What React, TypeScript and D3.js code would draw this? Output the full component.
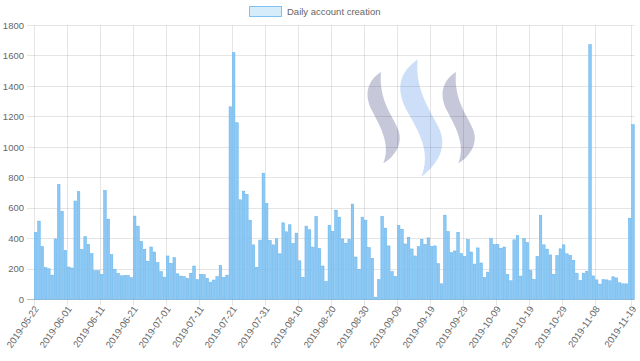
import React from "react";
import * as d3 from "d3";

const startDate = new Date(2019, 4, 22);
const endDate = new Date(2019, 10, 20);
const fmt = d3.timeFormat("%Y-%m-%d");
const dates: string[] = d3.timeDay.range(startDate, endDate).map((d) => fmt(d));

const accounts: number[] = [
  440, 515, 348, 209, 202, 160, 398, 755, 580, 323,
  213, 207, 647, 708, 328, 413, 363, 301, 189, 189,
  165, 717, 528, 295, 198, 172, 156, 158, 158, 143,
  548, 482, 381, 330, 251, 345, 312, 242, 183, 147,
  286, 238, 275, 169, 154, 150, 139, 172, 220, 130,
  165, 163, 139, 114, 128, 150, 224, 145, 160, 1266,
  1621, 1161, 655, 712, 690, 521, 359, 212, 390, 830,
  631, 388, 359, 399, 300, 504, 445, 491, 368, 436,
  254, 145, 482, 458, 344, 545, 334, 220, 119, 488,
  447, 587, 541, 398, 370, 396, 627, 279, 198, 541,
  521, 341, 271, 15, 130, 546, 469, 352, 183, 152,
  486, 462, 365, 409, 332, 286, 348, 396, 363, 405,
  348, 352, 235, 103, 554, 447, 308, 319, 442, 301,
  282, 394, 312, 233, 339, 240, 145, 180, 400, 361,
  361, 337, 345, 163, 123, 392, 420, 154, 400, 374,
  189, 132, 283, 552, 359, 331, 293, 166, 289, 333,
  359, 300, 291, 258, 173, 125, 173, 186, 1675, 155,
  129, 101, 131, 129, 123, 149, 142, 110, 103, 103,
  534, 1148,
];

const xTickLabels: string[] = [
  "2019-05-22", "2019-06-01", "2019-06-11", "2019-06-21", "2019-07-01",
  "2019-07-11", "2019-07-21", "2019-07-31", "2019-08-10", "2019-08-20",
  "2019-08-30", "2019-09-09", "2019-09-19", "2019-09-29", "2019-10-09",
  "2019-10-19", "2019-10-29", "2019-11-08", "2019-11-19",
];
const yTicks: number[] = [0, 200, 400, 600, 800, 1000, 1200, 1400, 1600, 1800];
const seriesName = "Daily account creation";

const W = 640;
const H = 361;
const left = 34;
const right = 634.6;
const top = 25.5;
const bottom = 299.5;

export default function App() {
  const x = d3.scaleBand<string>().domain(dates).range([left, right]).paddingInner(0).paddingOuter(0);
  const y = d3.scaleLinear().domain([0, 1800]).range([bottom, top]);
  const bw = x.bandwidth();
  const barW = bw * 0.78;
  const font = "'Liberation Sans', Arial, Helvetica, sans-serif";
  const snap = (v: number) => Math.round(v - 0.5) + 0.5;

  return (
    <svg width={W} height={H} style={{ position: "absolute", left: 0, top: 0, background: "#fff" }}>
      {/* watermark */}
      <g transform="translate(355,50) scale(0.3333)">
        <path d="M78,66 C40,90 25,130 50,180 C70,220 110,280 85,340 C120,320 145,280 130,240 C115,200 70,150 78,66 Z" fill="#c6c8da" />
        <path d="M188,28 C130,70 120,120 160,190 C200,260 225,310 200,380 C250,340 280,290 250,230 C215,165 180,110 188,28 Z" fill="#cddff8" />
        <path d="M303,66 C265,90 250,130 275,180 C295,220 335,280 310,340 C345,320 370,280 355,240 C340,200 295,150 303,66 Z" fill="#c6c8da" />
      </g>
      {/* horizontal grid */}
      {yTicks.map((t) => (
        <g key={"y" + t}>
          <line x1={left - 7} x2={right} y1={snap(y(t))} y2={snap(y(t))} stroke={t === 0 ? "rgba(0,0,0,0.25)" : "rgba(0,0,0,0.1)"} strokeWidth={1} />
          <text x={24} y={y(t)} dy="0.35em" textAnchor="end" fontFamily={font} fontSize={9.5} fill="#666">{t}</text>
        </g>
      ))}
      {/* vertical grid */}
      {xTickLabels.map((lab) => {
        const gx = snap(x(lab) as number);
        return (
          <line key={"g" + lab} x1={gx} x2={gx} y1={top} y2={bottom + 6} stroke="rgba(0,0,0,0.1)" strokeWidth={1} />
        );
      })}
      {/* bars */}
      {dates.map((d, i) => {
        const cx = (x(d) as number) + bw / 2;
        const yTop = y(accounts[i]);
        return (
          <rect key={d} x={cx - barW / 2} y={yTop} width={barW} height={bottom - yTop} fill="#8cc8f3" stroke="#5fb1ec" strokeWidth={0.5} />
        );
      })}
      {/* x tick labels */}
      {xTickLabels.map((lab) => {
        const cx = (x(lab) as number) + bw / 2 + 1;
        const ty = 307;
        return (
          <text key={"t" + lab} x={cx} y={ty} dy="0.35em" textAnchor="end" fontFamily={font} fontSize={9.5} fill="#666" transform={`rotate(-55,${cx},${ty})`}>
            {lab}
          </text>
        );
      })}
      {/* legend */}
      <rect x={249.5} y={6.5} width={32} height={10} fill="rgba(54,162,235,0.2)" stroke="rgba(54,162,235,0.6)" strokeWidth={1} />
      <text x={287} y={11.5} dy="0.35em" fontFamily={font} fontSize={9.5} fill="#666">{seriesName}</text>
    </svg>
  );
}
